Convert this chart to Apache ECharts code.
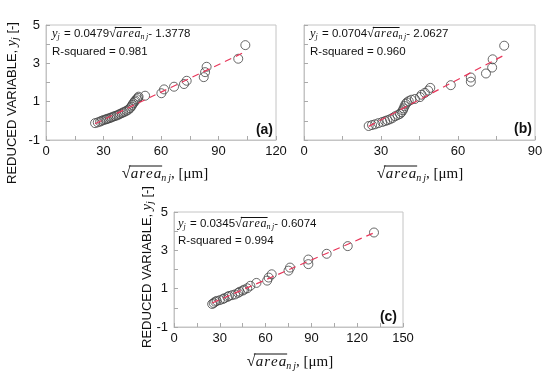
<!DOCTYPE html>
<html><head><meta charset="utf-8">
<script src="https://cdn.jsdelivr.net/npm/echarts@6/dist/echarts.min.js"></script>
<style>html,body{margin:0;padding:0;background:#fff}#c{width:550px;height:380px}</style>
</head><body><div id="c"></div>
<script>
// ---- data ----
const xA = [25.6,27,28.2,29,30,31,31.7,32.5,33.4,34.2,35.1,36,36.9,37.8,38.6,39.5,40.3,41.2,42.1,43,43.8,44.5,45,45.6,46.2,46.6,47.3,48,48.3,51.7,60.2,61.6,66.8,72,73.4,82.3,83,83.8,100.3,104];
const yA = [-0.12,-0.08,-0.04,0.0,0.04,0.07,0.09,0.12,0.15,0.18,0.22,0.25,0.28,0.32,0.36,0.40,0.44,0.48,0.53,0.58,0.66,0.74,0.83,0.92,1.0,1.06,1.13,1.2,1.26,1.31,1.44,1.64,1.78,1.92,2.09,2.28,2.54,2.82,3.24,3.95];
const xB = [25.2,26.5,27.7,29,30.5,31.6,32.5,33.5,34.5,35.5,36.5,37.4,38,38.5,38.8,39.2,39.6,40.1,40.8,41.8,43.2,45.2,45.8,47.1,48.4,49.2,57.2,65,65,70.9,73.3,73.5,78];
const yB = [-0.27,-0.22,-0.18,-0.12,-0.06,-0.01,0.03,0.08,0.15,0.24,0.30,0.36,0.45,0.55,0.65,0.77,0.88,0.96,1.03,1.10,1.14,1.24,1.36,1.46,1.58,1.72,1.86,2.04,2.26,2.47,2.78,3.21,3.92];
const xC = [25,26,27,28,30,32,33,35,36,38,40,42,43,45,46,48,50,54,61,62,64,75,76,88,88,100,113.8,131];
const yC = [0.20,0.25,0.32,0.36,0.40,0.46,0.50,0.57,0.62,0.66,0.70,0.78,0.84,0.90,0.95,1.02,1.15,1.30,1.42,1.58,1.75,1.94,2.10,2.28,2.52,2.82,3.22,3.93];
// fitted lines (endpoints of the printed regression equations)
const fitA = [[25.6,-0.151],[104,3.604]];
const fitB = [[25.2,-0.289],[78,3.428]];
const fitC = [[25,0.255],[131,3.912]];
const slopes = ['0.0479','0.0704','0.0345'];
const inters = ['1.3778','2.0627','0.6074'];
const r2s = ['0.981','0.960','0.994'];
const panelTags = ['(a)','(b)','(c)'];
const xMax = [120, 90, 150];
const yMin = -1, yMax = 5;

const sans = '"Liberation Sans", Arial, sans-serif';
const serif = '"Liberation Serif", "Times New Roman", serif';

const cv = document.createElement('canvas').getContext('2d');
function measure(font, t){ cv.font = font; return cv.measureText(t).width; }

function buildRun(segs, center){
  let x = 0; const kids = []; let ovStart = null;
  segs.forEach(s => {
    const chars = s.ls ? s.t.split('') : [s.t];
    const sx = x;
    chars.forEach((c,i) => {
      kids.push({type:'text', x:x, y:(s.dy||0), silent:true,
        style:{text:c, font:s.f, fill:'#111', align:'left', verticalAlign:'middle'}});
      x += measure(s.f, c) + (s.ls && i < chars.length-1 ? s.ls : 0);
    });
    if (s.sqrt) ovStart = sx + measure(s.f, s.t) * 0.8;
    if (s.over) {
      kids.push({type:'line', silent:true, shape:{x1:ovStart, y1:s.oy, x2:x+1, y2:s.oy},
        style:{stroke:'#111', lineWidth:s.ow||1}});
    }
    x += s.gap || 0;
  });
  if (center) kids.forEach(k => { if (k.type==='text') k.x -= x/2; else { k.shape.x1 -= x/2; k.shape.x2 -= x/2; } });
  return kids;
}

const grids = [
  {left:46, top:25, width:230, height:115},
  {left:304, top:25, width:231, height:115},
  {left:174, top:212, width:229, height:115}
];

const xAxes = grids.map((g,i) => ({
  type:'value', gridIndex:i, min:0, max:xMax[i], interval:15,
  axisLine:{show:true, onZero:false, lineStyle:{color:'#c4c4c4'}},
  axisTick:{show:true, inside:true, length:4, lineStyle:{color:'#aaa'}},
  splitLine:{show:false},
  axisLabel:{color:'#111', fontFamily:sans, fontSize:13, margin:5,
    formatter: v => (v % 30 === 0 ? String(v) : '')}
}));
const yAxes = grids.map((g,i) => ({
  type:'value', gridIndex:i, min:yMin, max:yMax, interval:1,
  axisLine:{show:true, onZero:false, lineStyle:{color:'#c4c4c4'}},
  axisTick:{show:true, inside:true, length:4, lineStyle:{color:'#aaa'}},
  splitLine:{show:false},
  axisLabel:{show: i !== 1, color:'#111', fontFamily:sans, fontSize:13, margin:6,
    formatter: v => ((v - yMin) % 2 === 0 ? String(v) : '')}
}));

const pts = [[xA,yA],[xB,yB],[xC,yC]];
const fits = [fitA, fitB, fitC];
const series = [];
pts.forEach((p,i) => {
  series.push({type:'scatter', xAxisIndex:i, yAxisIndex:i, symbol:'circle', symbolSize:9,
    data: p[0].map((x,k) => [x, p[1][k]]),
    itemStyle:{color:'rgba(255,255,255,0)', borderColor:'#444', borderWidth:1}, z:2});
  series.push({type:'line', xAxisIndex:i, yAxisIndex:i, data:fits[i], symbol:'none',
    lineStyle:{color:'#e8365a', width:1.2, type:[7,5]}, z:3, silent:true});
});

const graphic = [];
function xTitle(cx, cy){
  graphic.push({type:'group', x:cx, y:cy, children: buildRun([
    {t:'\u221A', f:`16px ${serif}`, sqrt:true},
    {t:'area', f:`italic 15px ${serif}`, ls:1, over:true, oy:-8},
    {t:'n', f:`italic 10px ${serif}`, dy:4, gap:2},
    {t:'j', f:`italic 10px ${serif}`, dy:4},
    {t:', [\u03BCm]', f:`15px ${serif}`}
  ], true)});
}
function yTitle(cx, cy){
  graphic.push({type:'group', x:cx, y:cy, rotation:Math.PI/2, children: buildRun([
    {t:'REDUCED VARIABLE, ', f:`13px ${sans}`},
    {t:'y', f:`italic 14px ${serif}`},
    {t:'j', f:`italic 10px ${serif}`, dy:3},
    {t:' [-]', f:`13px ${sans}`}
  ], true)});
}
function annot(i, x, y1, y2){
  graphic.push({type:'group', x:x, y:y1, children: buildRun([
    {t:'y', f:`italic 12.5px ${serif}`},
    {t:'j', f:`italic 8px ${serif}`, dy:3, gap:1},
    {t:' = ' + slopes[i], f:`11.5px ${sans}`},
    {t:'\u221A', f:`13px ${serif}`, sqrt:true},
    {t:'area', f:`italic 12px ${serif}`, ls:0.8, over:true, oy:-6.5},
    {t:'n', f:`italic 8px ${serif}`, dy:3, gap:1.5},
    {t:'j', f:`italic 8px ${serif}`, dy:3},
    {t:'- ' + inters[i], f:`11.5px ${sans}`}
  ], false)});
  graphic.push({type:'text', x:x, y:y2, silent:true,
    style:{text:'R-squared = ' + r2s[i], font:`11.5px ${sans}`, fill:'#111', verticalAlign:'middle'}});
}
function tag(i, x, y){
  graphic.push({type:'text', x:x, y:y, silent:true,
    style:{text:panelTags[i], font:`bold 14px ${sans}`, fill:'#111', align:'right', verticalAlign:'middle'}});
}
xTitle(165, 174); xTitle(420, 174); xTitle(290, 362);
yTitle(12, 103); yTitle(147, 267);
annot(0, 52, 34, 52); annot(1, 310, 34, 52); annot(2, 178, 224, 241);
tag(0, 273, 130); tag(1, 532, 129); tag(2, 397, 317);

const chart = echarts.init(document.getElementById('c'), null, {renderer:'canvas'});
chart.setOption({
  animation:false,
  grid: grids.map(g => Object.assign({show:true, borderColor:'#c4c4c4', borderWidth:1, backgroundColor:'rgba(0,0,0,0)', containLabel:false}, g)),
  xAxis: xAxes, yAxis: yAxes, series: series, graphic: graphic
});
</script></body></html>
